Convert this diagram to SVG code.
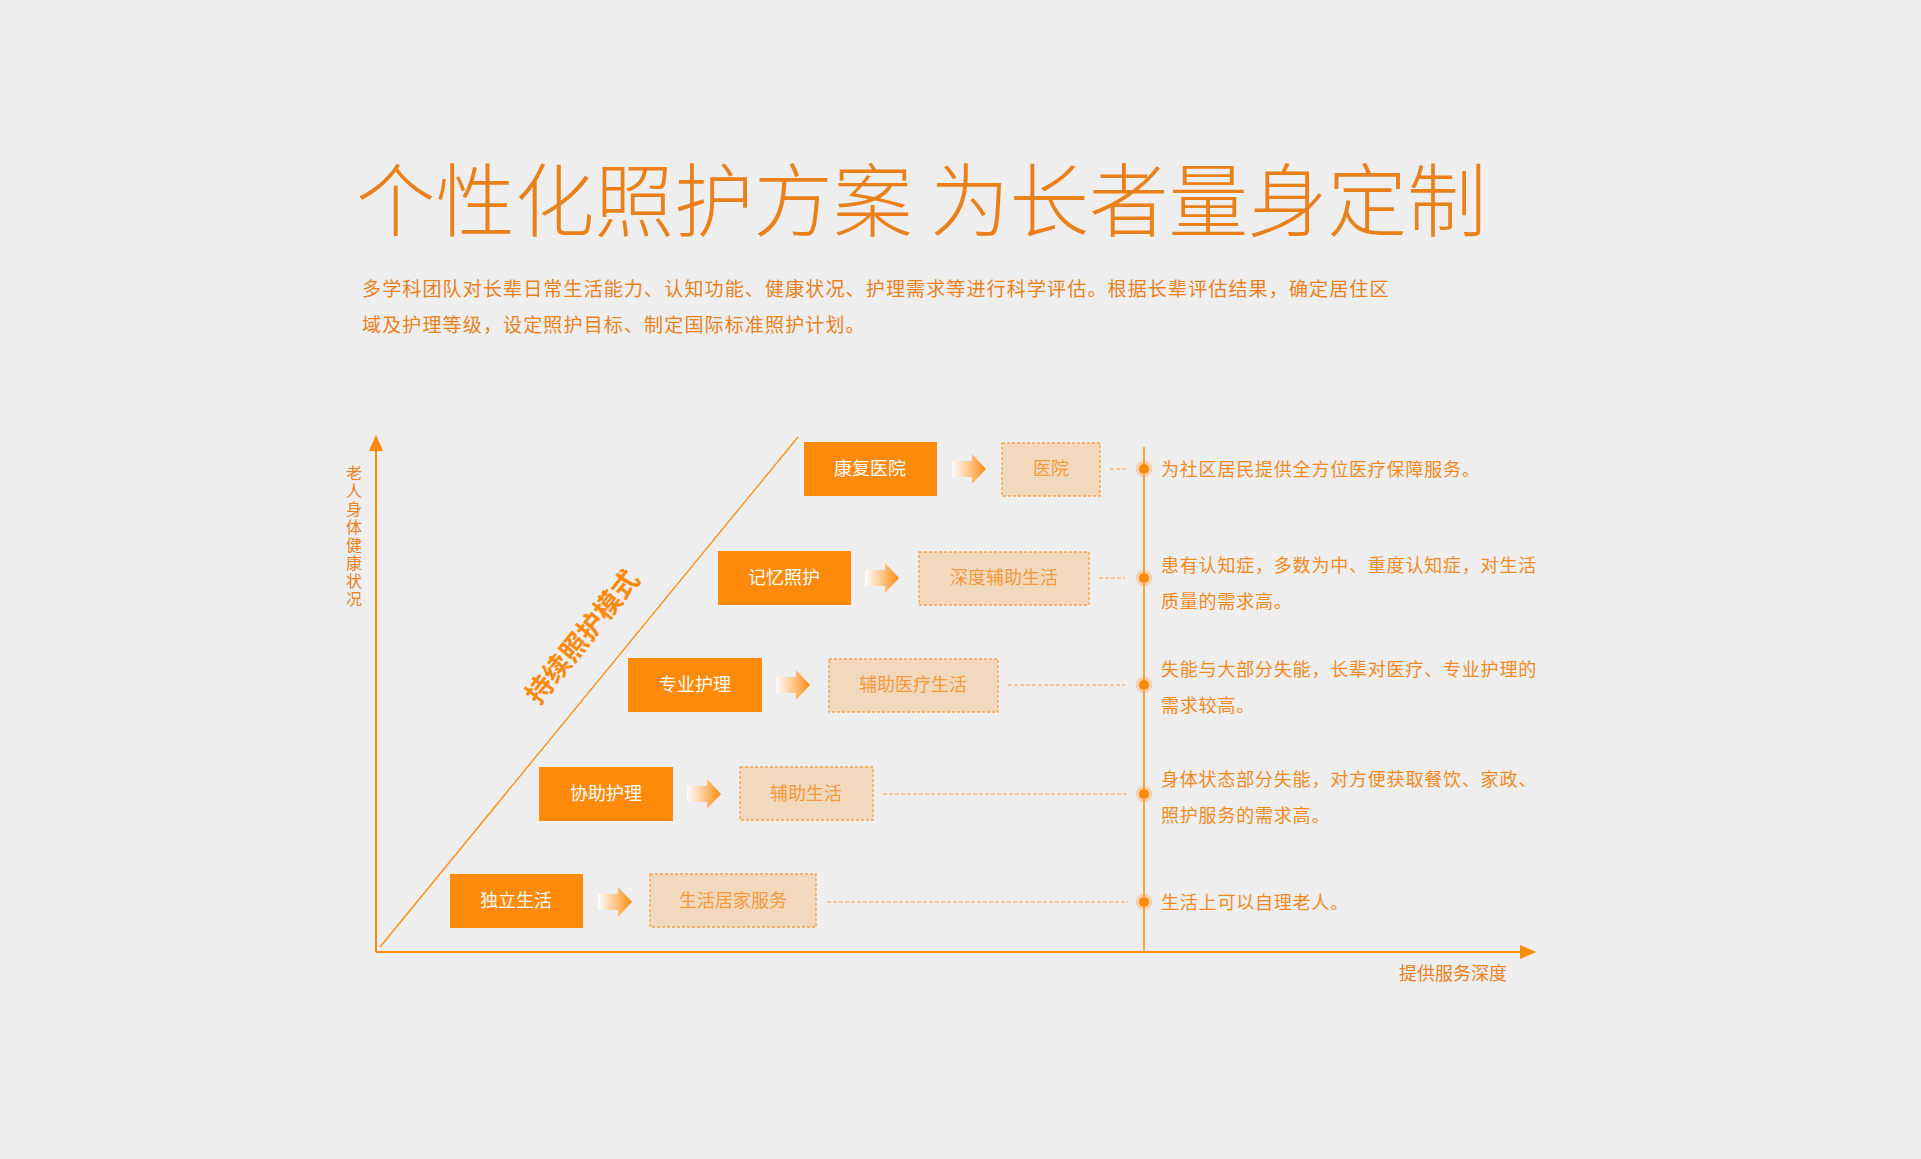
<svg xmlns="http://www.w3.org/2000/svg" width="1921" height="1159" viewBox="0 0 1921 1159">
<defs>
<style>
text{font-family:"Noto Sans CJK SC","Noto Sans",sans-serif}
.t{fill:#E9801A}
.box{fill:#FF8A0A}
.bt{fill:#fff;font-size:18px;text-anchor:middle}
.lb{fill:#F2D9BE;stroke:#F5A04A;stroke-width:1.3;stroke-dasharray:3 2}
.lt{fill:#F39A3C;font-size:18px;text-anchor:middle}
.dl{stroke:#F5A04A;stroke-width:1.2;stroke-dasharray:4 2;fill:none}
.rt{fill:#F08A1E;font-size:18px;letter-spacing:0.8px}
.halo{fill:#FF9A30;opacity:0.35}
.dot{fill:#FF8A0A}
</style>
<linearGradient id="ag" x1="0" x2="1" y1="0" y2="0">
<stop offset="0" stop-color="#fff" stop-opacity="0.9"/>
<stop offset="1" stop-color="#FF8A0A"/>
</linearGradient>
<marker id="ah" markerWidth="16" markerHeight="14" refX="15" refY="7" orient="auto" markerUnits="userSpaceOnUse" viewBox="0 0 16 14">
<path d="M0,0 L16,7 L0,14 z" fill="#FF8A0A"/>
</marker>
<path id="arr" d="M0,-8 H20 V-15 L34,0 L20,15 V8 H0 z"/>
</defs>
<rect width="1921" height="1159" fill="#EEEEEE"/>
<text x="356" y="230" class="t" font-size="79.5" font-weight="300">个性化照护方案 为长者量身定制</text>
<text x="362" y="296" class="t" font-size="19" letter-spacing="1.15">多学科团队对长辈日常生活能力、认知功能、健康状况、护理需求等进行科学评估。根据长辈评估结果，确定居住区</text>
<text x="362" y="332" class="t" font-size="19" letter-spacing="1.15">域及护理等级，设定照护目标、制定国际标准照护计划。</text>

<g id="connectors" fill="none">
<line x1="376" y1="952" x2="376" y2="436" stroke="#FF8A0A" stroke-width="2" marker-end="url(#ah)"/>
<line x1="376" y1="952" x2="1535" y2="952" stroke="#FF8A0A" stroke-width="2" marker-end="url(#ah)"/>
<line x1="380" y1="947" x2="798" y2="437" stroke="#FF8A0A" stroke-width="1.3"/>
<line x1="1144" y1="447" x2="1144" y2="952" stroke="#FF8A0A" stroke-width="1.5"/>
<line class="dl" x1="1110" y1="469" x2="1128" y2="469"/>
<line class="dl" x1="1099" y1="578" x2="1125" y2="578"/>
<line class="dl" x1="1008" y1="685" x2="1125" y2="685"/>
<line class="dl" x1="883" y1="794" x2="1128" y2="794"/>
<line class="dl" x1="827" y1="902" x2="1128" y2="902"/>
<g fill="url(#ag)">
<use href="#arr" x="952" y="469"/>
<use href="#arr" x="865" y="578"/>
<use href="#arr" x="776" y="685"/>
<use href="#arr" x="687" y="794"/>
<use href="#arr" x="598" y="902"/>
</g>
</g>

<text class="t" font-size="16" text-anchor="middle">
<tspan x="354" y="479">老</tspan><tspan x="354" y="497">人</tspan><tspan x="354" y="515">身</tspan><tspan x="354" y="533">体</tspan><tspan x="354" y="551">健</tspan><tspan x="354" y="569">康</tspan><tspan x="354" y="587">状</tspan><tspan x="354" y="605">况</tspan>
</text>
<text x="1399" y="980" class="t" font-size="18">提供服务深度</text>
<text transform="translate(590,643) rotate(-51)" text-anchor="middle" font-size="27" font-weight="bold" fill="#FF8A0A">持续照护模式</text>

<g id="n1"><rect class="box" x="804" y="442" width="133" height="54"/><text class="bt" x="870" y="475">康复医院</text></g>
<g id="n2"><rect class="box" x="718" y="551" width="133" height="54"/><text class="bt" x="784" y="584">记忆照护</text></g>
<g id="n3"><rect class="box" x="628" y="658" width="134" height="54"/><text class="bt" x="695" y="691">专业护理</text></g>
<g id="n4"><rect class="box" x="539" y="767" width="134" height="54"/><text class="bt" x="606" y="800">协助护理</text></g>
<g id="n5"><rect class="box" x="450" y="874" width="133" height="54"/><text class="bt" x="516" y="907">独立生活</text></g>

<g id="l1"><rect class="lb" x="1002" y="443" width="98" height="53"/><text class="lt" x="1051" y="475">医院</text></g>
<g id="l2"><rect class="lb" x="919" y="552" width="170" height="53"/><text class="lt" x="1004" y="584">深度辅助生活</text></g>
<g id="l3"><rect class="lb" x="829" y="659" width="169" height="53"/><text class="lt" x="913" y="691">辅助医疗生活</text></g>
<g id="l4"><rect class="lb" x="740" y="767" width="133" height="53"/><text class="lt" x="806" y="800">辅助生活</text></g>
<g id="l5"><rect class="lb" x="650" y="874" width="166" height="53"/><text class="lt" x="733" y="907">生活居家服务</text></g>

<g id="d1"><circle class="halo" cx="1144" cy="469" r="8"/><circle class="dot" cx="1144" cy="469" r="5"/><text class="rt" x="1161" y="476">为社区居民提供全方位医疗保障服务。</text></g>
<g id="d2"><circle class="halo" cx="1144" cy="578" r="8"/><circle class="dot" cx="1144" cy="578" r="5"/><text class="rt" x="1161" y="572">患有认知症，多数为中、重度认知症，对生活</text><text class="rt" x="1161" y="608">质量的需求高。</text></g>
<g id="d3"><circle class="halo" cx="1144" cy="685" r="8"/><circle class="dot" cx="1144" cy="685" r="5"/><text class="rt" x="1161" y="676">失能与大部分失能，长辈对医疗、专业护理的</text><text class="rt" x="1161" y="712">需求较高。</text></g>
<g id="d4"><circle class="halo" cx="1144" cy="794" r="8"/><circle class="dot" cx="1144" cy="794" r="5"/><text class="rt" x="1161" y="786">身体状态部分失能，对方便获取餐饮、家政、</text><text class="rt" x="1161" y="822">照护服务的需求高。</text></g>
<g id="d5"><circle class="halo" cx="1144" cy="902" r="8"/><circle class="dot" cx="1144" cy="902" r="5"/><text class="rt" x="1161" y="909">生活上可以自理老人。</text></g>
</svg>
